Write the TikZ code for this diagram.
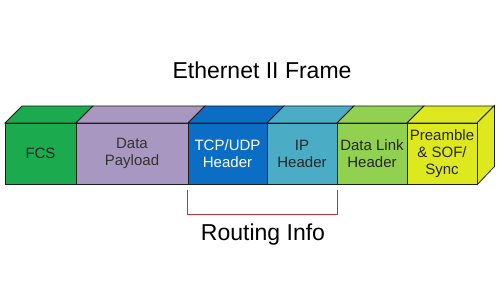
\documentclass[tikz,border=0pt]{standalone}
\usepackage{fontspec}
\setmainfont{Liberation Sans}
\usepackage{tikz}
\definecolor{fcsgreen}{HTML}{1BAA4E}
\definecolor{payload}{HTML}{A897C0}
\definecolor{tcpblue}{HTML}{0B6DC3}
\definecolor{ipteal}{HTML}{4BACC6}
\definecolor{linkgreen}{HTML}{92D050}
\definecolor{preyellow}{HTML}{DDE81E}
\definecolor{edgeln}{HTML}{1E1E1E}
\definecolor{bracketred}{HTML}{C0363A}
\newcommand{\framefield}[6]{%
  \draw[edgeln,line width=0.8pt,fill=#4] (#2,177) -- (#2+17,194) -- (#3+17,194) -- (#3,177) -- cycle;
  \node[field,fill=#4,text=#5,minimum width={(#3-#2)*1pt}] (#1) at ({(#2+#3)/2},146.5) {#6};
}
\tikzset{
  field/.style={draw=edgeln,line width=0.8pt,minimum height=61pt,inner sep=0pt,
    align=center,font=\fontsize{15}{17}\selectfont},
  caption/.style={anchor=base,font=\fontsize{23}{26}\selectfont}
}

\begin{document}
\begin{tikzpicture}[x=1pt,y=1pt]
    \useasboundingbox (0,0) rectangle (500,300);
    \framefield{fcs}{5}{76}{fcsgreen}{black!85}{FCS}
    \framefield{data}{76}{188}{payload}{black!80}{Data\\Payload}
    \framefield{tcp}{188}{267}{tcpblue}{white}{TCP/UDP\\Header}
    \framefield{ip}{267}{337}{ipteal}{black!85}{IP\\Header}
    \framefield{link}{337}{407}{linkgreen}{black!85}{Data Link\\Header}
    \framefield{pre}{407}{477}{preyellow}{black!85}{Preamble\\\& SOF/\\Sync}
    \draw[edgeln,line width=0.8pt,fill=preyellow] (pre.north east) -- ++(17,17) -- ++(0,-61) -- (pre.south east) -- cycle;
    \node[caption] (title) at (262,221) {Ethernet II Frame};
    \draw[bracketred,line width=1pt] ([yshift=-6pt]tcp.south west) -- ++(0,-24) -| ([yshift=-6pt]ip.south east);
    \node[caption] (routing) at (263,60) {Routing Info};
  \end{tikzpicture}
\end{document}
